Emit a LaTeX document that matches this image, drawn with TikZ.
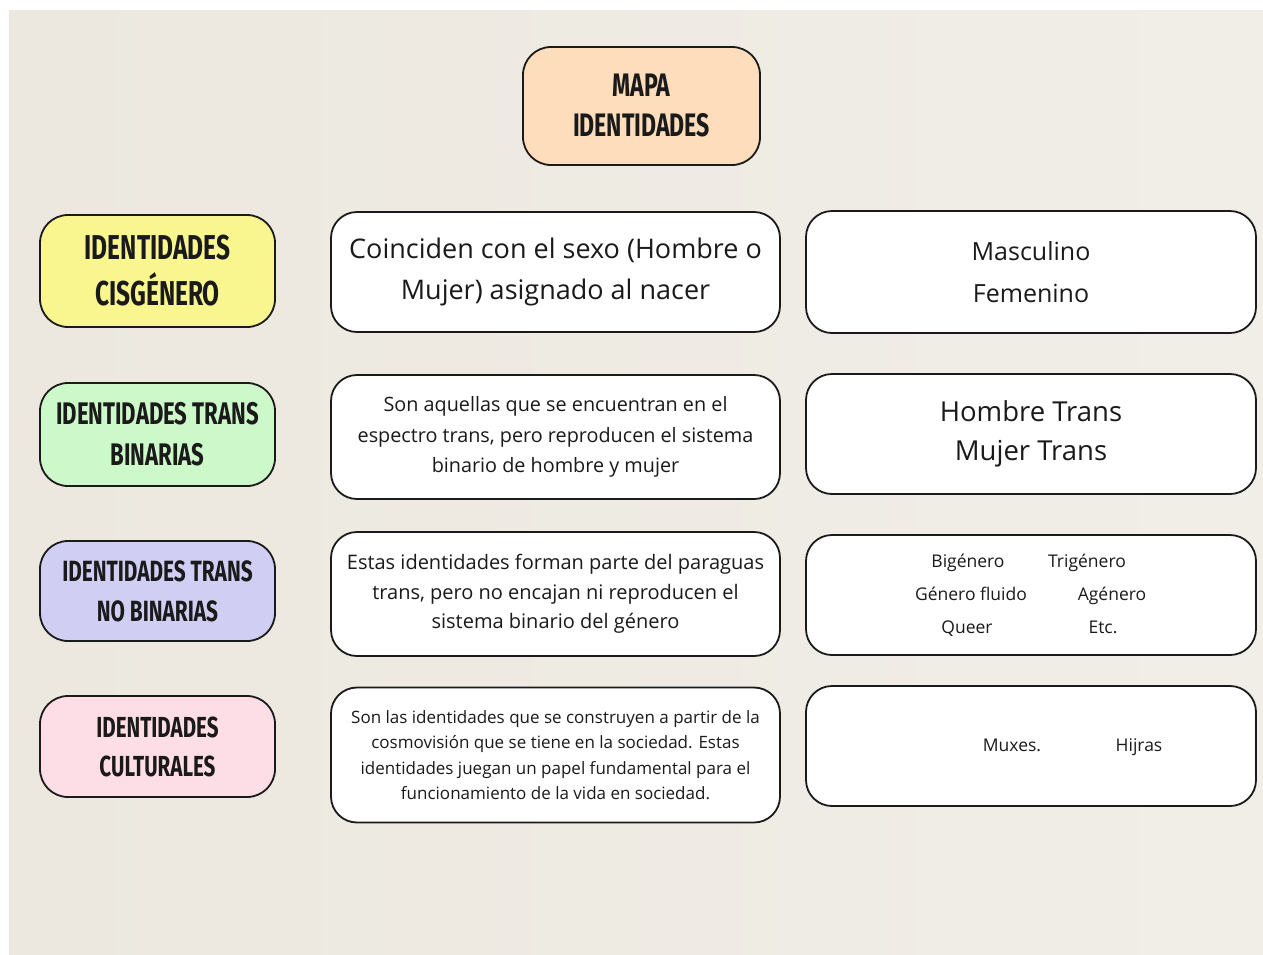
\documentclass[tikz,border=0pt]{standalone}
\usepackage{fontspec}
\setmainfont{Open Sans}
\newfontfamily\titlefont{Fira Sans}[FakeStretch=0.71]
\definecolor{paper}{HTML}{ECE8DF}
\definecolor{paperlight}{HTML}{F1EEE8}
\definecolor{peach}{HTML}{FDDDBB}
\definecolor{cisyellow}{HTML}{F9F58F}
\definecolor{binagreen}{HTML}{CDF8C9}
\definecolor{nobilav}{HTML}{D1CEF4}
\definecolor{culpink}{HTML}{FDDDE6}
\definecolor{ink}{HTML}{1A1A1A}
\tikzset{
  card/.style={draw=ink, line width=1.8pt, rounded corners=26pt, align=center, inner sep=0pt, text=ink},
  titlecard/.style={card, rounded corners=28pt, font=\titlefont\bfseries},
  leftcard/.style={titlecard, minimum width=235pt},
  midcard/.style={card, fill=white, minimum width=449pt},
  rightcard/.style={card, fill=white, minimum width=450pt},
  item/.style={inner sep=0pt, text=ink, text height=0.75em, text depth=0.25em, font=\fontsize{17.5}{22}\selectfont}
}
\begin{document}
\begin{tikzpicture}[x=1pt,y=-1pt]
\useasboundingbox (0,0) rectangle (1263,954);
\fill[white] (0,0) rectangle (1263,954);
\shade[left color=paper, right color=paperlight] (9,10) rectangle (1263,954);

% top
\node[titlecard, fill=peach, minimum width=237pt, minimum height=118pt,
      font=\titlefont\bfseries\fontsize{32.5}{40}\selectfont] (mapa) at (641.5,106) {MAPA\\IDENTIDADES};

% left column
\node[leftcard, fill=cisyellow, minimum height=112pt,
      font=\titlefont\bfseries\fontsize{34.5}{46}\selectfont] (cis) at (157.5,271) {IDENTIDADES\\CISGÉNERO};
\node[leftcard, fill=binagreen, minimum height=103pt,
      font=\titlefont\bfseries\fontsize{31.2}{41}\selectfont] (bin) at (157.5,434.5) {IDENTIDADES TRANS\\BINARIAS};
\node[leftcard, fill=nobilav, minimum height=100pt,
      font=\titlefont\bfseries\fontsize{29.3}{40}\selectfont] (nobin) at (157.5,591) {IDENTIDADES TRANS\\NO BINARIAS};
\node[leftcard, fill=culpink, minimum height=101pt,
      font=\titlefont\bfseries\fontsize{29}{39}\selectfont] (cul) at (157.5,746.5) {IDENTIDADES\\CULTURALES};

% middle column
\node[midcard, minimum height=120pt, font=\fontsize{27}{41}\selectfont] (cisdef) at (555.5,272)
  {Coinciden con el sexo (Hombre o\\Mujer) asignado al nacer};
\node[midcard, minimum height=124pt, font=\fontsize{19.8}{30.5}\selectfont] (bindef) at (555.5,437)
  {Son aquellas que se encuentran en el\\espectro trans, pero reproducen el sistema\\binario de hombre y mujer};
\node[midcard, minimum height=124pt, font=\fontsize{20}{29.5}\selectfont] (nobindef) at (555.5,594)
  {Estas identidades forman parte del paraguas\\trans, pero no encajan ni reproducen el\\sistema binario del género};
\node[midcard, minimum height=135pt, font=\fontsize{17}{25.3}\selectfont] (culdef) at (555.5,755)
  {Son las identidades que se construyen a partir de la\\cosmovisión que se tiene en la sociedad. Estas\\identidades juegan un papel fundamental para el\\funcionamiento de la vida en sociedad.};

% right column
\node[rightcard, minimum height=122pt, font=\fontsize{25}{42}\selectfont] (cisex) at (1031,272)
  {Masculino\\Femenino};
\node[rightcard, minimum height=120pt, font=\fontsize{27.5}{39}\selectfont] (binex) at (1031,434)
  {Hombre Trans\\Mujer Trans};
\node[rightcard, minimum height=120pt] (nobinex) at (1031,595) {};
\node[rightcard, minimum height=120pt] (culex) at (1031,746) {};

\node[item] (bigen) at (968,565) {Bigénero};
\node[item] (trigen) at (1087,565) {Trigénero};
\node[item] (fluido) at (971,598) {Género fluido};
\node[item] (agen) at (1112,598) {Agénero};
\node[item] (queer) at (967,631) {Queer};
\node[item] (etc) at (1103,631) {Etc.};

\node[item] (muxes) at (1012,749) {Muxes.};
\node[item] (hijras) at (1139,749) {Hijras};
\end{tikzpicture}
\end{document}
